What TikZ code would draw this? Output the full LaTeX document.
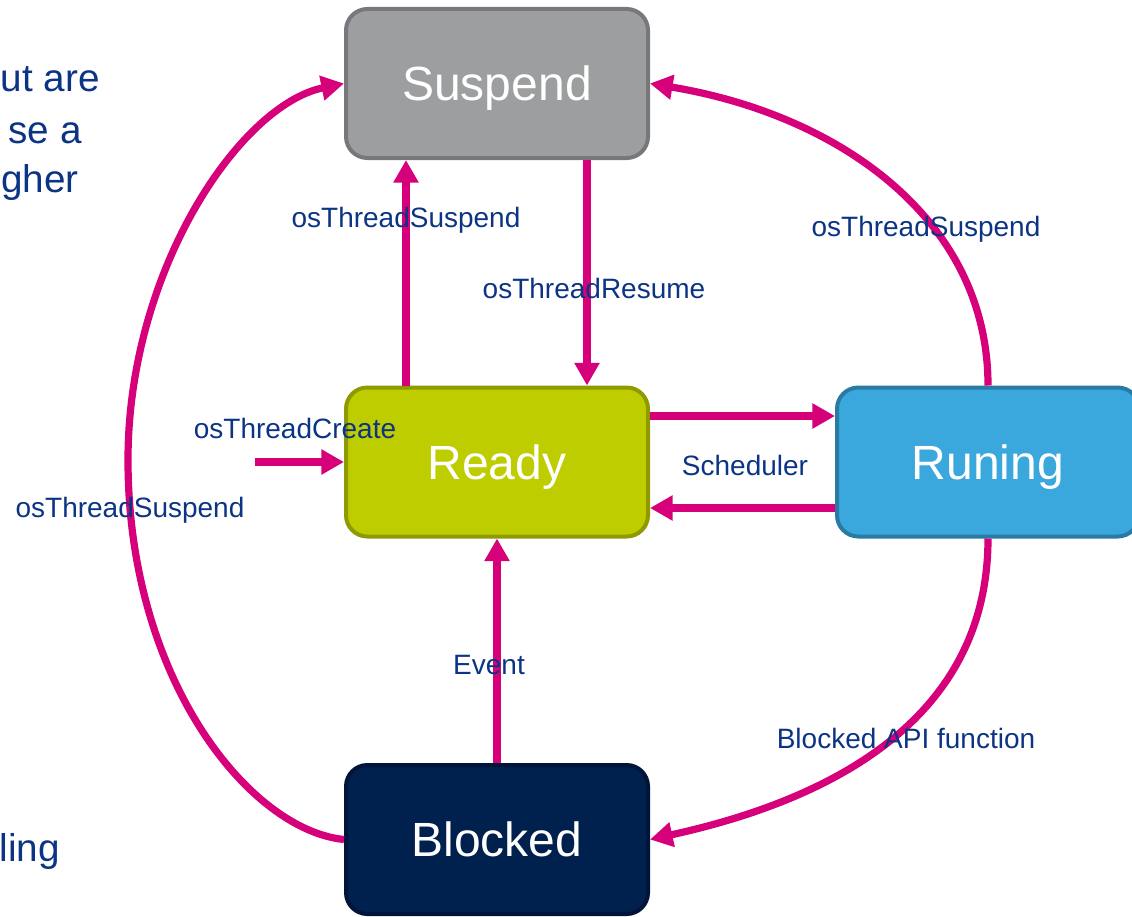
\documentclass[tikz,border=0pt]{standalone}
\usepackage{fontspec}
\setmainfont{Liberation Sans}
\usetikzlibrary{arrows.meta,calc}

\definecolor{flowc}{RGB}{214,0,122}
\definecolor{labelc}{RGB}{12,52,132}
\definecolor{suspfill}{RGB}{157,158,160}
\definecolor{suspdraw}{RGB}{119,120,123}
\definecolor{readyfill}{RGB}{189,205,0}
\definecolor{readydraw}{RGB}{142,154,0}
\definecolor{runfill}{RGB}{58,168,220}
\definecolor{rundraw}{RGB}{42,123,163}
\definecolor{blockfill}{RGB}{0,32,78}
\definecolor{blockdraw}{RGB}{0,21,57}

\tikzset{
  state/.style={rectangle, rounded corners=16pt, line width=3pt,
    minimum width=226.5pt, minimum height=111.75pt, inner sep=0pt,
    text=white, font=\fontsize{36}{40}\selectfont,
    text height=25.8pt, text depth=0pt},
  flow/.style={draw=flowc, line width=5.4pt,
    -{Triangle[length=17pt,width=18pt]}},
  lbl/.style={text=labelc, font=\fontsize{21}{24}\selectfont,
    inner sep=0pt, anchor=base},
  side/.style={text=labelc, font=\fontsize{29}{34}\selectfont,
    inner sep=0pt, anchor=base east}
}

\begin{document}
\begin{tikzpicture}[x=0.75pt,y=-0.75pt]
\useasboundingbox (0,0) rectangle (1132,917);

% state boxes
\node[state, fill=suspfill, draw=suspdraw] (suspend) at (497,83.5) {Suspend};
\node[state, fill=readyfill, draw=readydraw] (ready) at (497,462) {Ready};
\node[state, fill=runfill, draw=rundraw] (running) at (988,462) {Runing};
\node[state, fill=blockfill, draw=blockdraw] (blocked) at (497,839.5) {Blocked};

\coordinate (create) at (255,462);

% straight transitions
\draw[flow] ($(ready.north)+(-91,0)$) -- ($(suspend.south)+(-91,0)$);
\draw[flow] ($(suspend.south)+(90,0)$) -- ($(ready.north)+(90,0)$);
\draw[flow] ($(ready.east)+(0,-46)$) -- ($(running.west)+(0,-46)$);
\draw[flow] ($(running.west)+(0,46)$) -- ($(ready.east)+(0,46)$);
\draw[flow] (create) -- (ready.west);
\draw[flow] (blocked.north) -- (ready.south);

% curved transitions
\draw[flow] (running.north) .. controls (988,220) and (840,115) .. (suspend.east);
\draw[flow] (running.south) .. controls (988,720) and (830,800) .. (blocked.east);
\draw[flow] (blocked.west) .. controls (250,830) and (128,680) .. (128,460)
  .. controls (128,270) and (240,105) .. (suspend.west);

% transition labels
\node[lbl] (l1) at (406,227) {osThreadSuspend};
\node[lbl] (l2) at (594,298) {osThreadResume};
\node[lbl] (l3) at (926,236) {osThreadSuspend};
\node[lbl] (l4) at (295,438) {osThreadCreate};
\node[lbl] (l5) at (130,517) {osThreadSuspend};
\node[lbl] (l6) at (745,475) {Scheduler};
\node[lbl] (l7) at (489,674) {Event};
\node[lbl] (l8) at (906,748) {Blocked API function};

% text running in from the left margin
\node[side] (t1) at (100,92) {ut are};
\node[side] (t2) at (82,143) {se a};
\node[side, anchor=base west] (t3) at (1,192) {gher};
\node[side] (t4) at (60,861) {ling};
\end{tikzpicture}
\end{document}
